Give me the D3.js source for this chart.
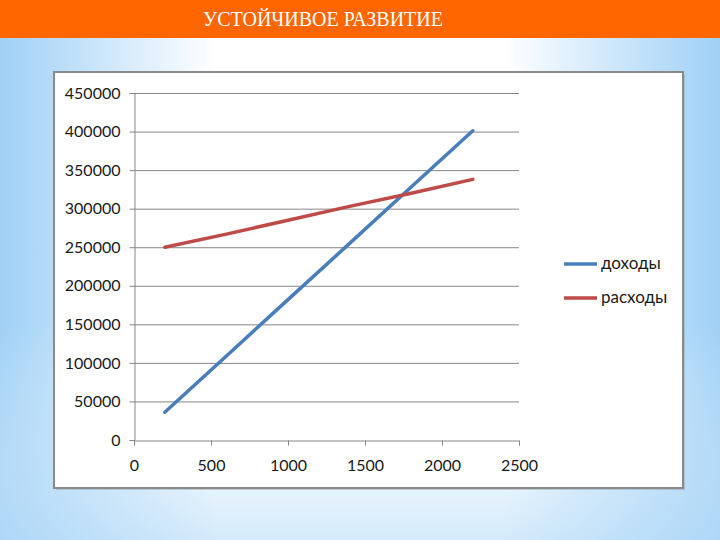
<!DOCTYPE html>
<html><head><meta charset="utf-8">
<script src="https://cdn.jsdelivr.net/npm/d3@7"></script>
<style>html,body{margin:0;padding:0;}svg{display:block;}</style>
</head><body>
<script>
const title = "УСТОЙЧИВОЕ РАЗВИТИЕ";
const seriesNames = ["доходы", "расходы"];
const xValues = [200, 600, 1000, 1400, 1800, 2200];
const incomeValues = [36000, 109000, 182000, 255000, 328000, 401000];
const expenseValues = [250000, 267000, 285000, 303000, 320000, 338000];
const xTicks = [0, 500, 1000, 1500, 2000, 2500];
const yTicks = [0, 50000, 100000, 150000, 200000, 250000, 300000, 350000, 400000, 450000];
const colors = ["#4a7ebb", "#be4b48"];

const W = 720, H = 540;
const svg = d3.select("body").append("svg").attr("width", W).attr("height", H);
const defs = svg.append("defs");
const g1 = defs.append("linearGradient").attr("id", "bgH").attr("x1", 0).attr("x2", 1).attr("y1", 0).attr("y2", 0);
[[0, "#9fd0f6"], [0.3, "#ffffff"], [0.7, "#ffffff"], [1, "#9fd0f6"]].forEach(s => g1.append("stop").attr("offset", s[0]).attr("stop-color", s[1]));
const g2 = defs.append("linearGradient").attr("id", "bgV").attr("x1", 0).attr("x2", 0).attr("y1", 0).attr("y2", 1);
[[0, "#ffffff", 0], [0.6, "#ffffff", 0], [1, "#b7dcf8", 0.6]].forEach(s => g2.append("stop").attr("offset", s[0]).attr("stop-color", s[1]).attr("stop-opacity", s[2]));
svg.append("rect").attr("width", W).attr("height", H).attr("fill", "url(#bgH)");
svg.append("rect").attr("width", W).attr("height", H).attr("fill", "url(#bgV)");

svg.append("rect").attr("x", 0).attr("y", 0).attr("width", W).attr("height", 38).attr("fill", "#ff6600");
svg.append("text").attr("x", 323).attr("y", 26).attr("text-anchor", "middle")
  .attr("font-family", "Liberation Serif, DejaVu Serif, serif").attr("font-size", 20)
  .attr("fill", "#ffffff").text(title);

// chart box
svg.append("rect").attr("x", 56).attr("y", 74).attr("width", 629).attr("height", 416).attr("fill", "#9aa6b0").attr("opacity", 0.5);
svg.append("rect").attr("x", 54).attr("y", 72).attr("width", 629).attr("height", 416)
  .attr("fill", "#ffffff").attr("stroke", "#8a8a8a").attr("stroke-width", 2);

const x = d3.scaleLinear().domain([0, 2500]).range([134, 519]);
const y = d3.scaleLinear().domain([0, 450000]).range([440, 93]);
const font = "Lato, 'Open Sans', sans-serif";

// gridlines
svg.append("g").selectAll("line").data(yTicks.slice(1)).join("line")
  .attr("x1", x(0)).attr("x2", x(2500)).attr("y1", d => y(d) + 0.5).attr("y2", d => y(d) + 0.5)
  .attr("stroke", "#878787").attr("stroke-width", 1);

const yAxis = svg.append("g").attr("transform", `translate(${x(0) + 0.5},0)`)
  .call(d3.axisLeft(y).tickValues(yTicks).tickSize(5).tickPadding(9).tickFormat(d3.format("d")));
const xAxis = svg.append("g").attr("transform", `translate(0,${y(0) + 0.5})`)
  .call(d3.axisBottom(x).tickValues(xTicks).tickSize(5).tickPadding(14).tickFormat(d3.format("d")));
[yAxis, xAxis].forEach(a => {
  a.select(".domain").attr("stroke", "#878787");
  a.selectAll(".tick line").attr("stroke", "#878787");
  a.selectAll("text").attr("font-family", font).attr("font-size", 16).attr("fill", "#1a1a1a");
});

const line = d3.line().x(d => x(d[0])).y(d => y(d[1]));
[incomeValues, expenseValues].forEach((vals, i) => {
  svg.append("path").datum(xValues.map((xv, j) => [xv, vals[j]]))
    .attr("d", line).attr("fill", "none").attr("stroke", colors[i])
    .attr("stroke-width", 3.5).attr("stroke-linecap", "round");
});

// legend
const leg = svg.append("g");
seriesNames.forEach((n, i) => {
  const ly = 264 + i * 34;
  leg.append("line").attr("x1", 564).attr("x2", 597).attr("y1", ly).attr("y2", ly)
    .attr("stroke", colors[i]).attr("stroke-width", 3.5);
  leg.append("text").attr("x", 601).attr("y", ly + 5).attr("font-family", font)
    .attr("font-size", 17).attr("fill", "#1a1a1a").text(n);
});
</script>
</body></html>
